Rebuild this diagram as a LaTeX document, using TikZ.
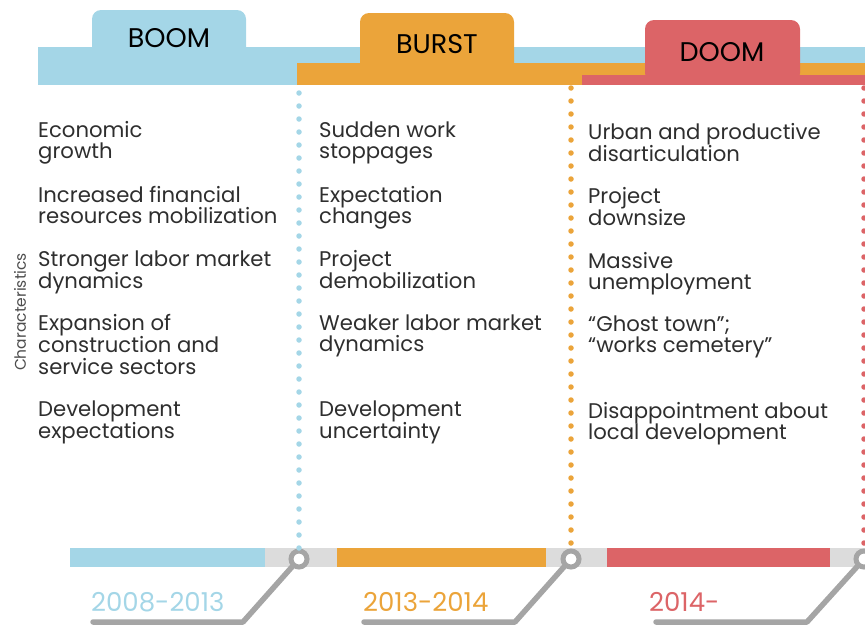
\documentclass[tikz,border=0pt]{standalone}
\usepackage{fontspec}
\setmainfont{Poppins}
\definecolor{cblue}{HTML}{A4D6E7}
\definecolor{corange}{HTML}{EBA43A}
\definecolor{cred}{HTML}{DC6467}
\definecolor{cbar}{HTML}{DCDCDC}
\definecolor{cline}{HTML}{A5A5A5}
\definecolor{ctext}{HTML}{2E2E2E}
\newcommand\twoline[2]{\vtop{\hbox{#1}\hbox{#2}}}
\newcommand\threeline[3]{\vtop{\hbox{#1}\hbox{#2}\hbox{#3}}}
\begin{document}
\begin{tikzpicture}[x=1pt,y=-1pt,
  item/.style={anchor=base west, inner sep=0pt, text=ctext,
    font=\fontsize{21.2}{21.5}\selectfont},
  tablabel/.style={inner sep=0pt, text=black, font=\fontsize{27}{27}\selectfont},
  datelabel/.style={anchor=base west, inner sep=0pt, font=\fontsize{26}{26}\selectfont},
  dotline/.style={draw=#1, line width=5.5pt, line cap=round, dash pattern=on 0pt off 13pt},
  ring/.style={circle, draw=cline, line width=5pt, fill=white, minimum size=16pt, inner sep=0pt},
  leader/.style={draw=cline, line width=5.5pt, line cap=round, line join=round}]
\useasboundingbox (0,0) rectangle (865,624);
% header bands and tabs
\fill[cblue] (38,47) rectangle (865,85);
\fill[cblue, rounded corners=9pt] (92,60) -- (92,10) -- (246,10) -- (246,60) -- cycle;
\fill[corange] (297,63) rectangle (865,85);
\fill[corange, rounded corners=9pt] (360,72) -- (360,13) -- (514,13) -- (514,72) -- cycle;
\fill[cred] (582,75) rectangle (865,85);
\fill[cred, rounded corners=9pt] (645,82) -- (645,20) -- (800,20) -- (800,82) -- cycle;
\node[tablabel] (tboom) at (169,38) {BOOM};
\node[tablabel] (tburst) at (437,44) {BURST};
\node[tablabel] (tdoom) at (722,52) {DOOM};
% bottom bar
\fill[cbar] (265,548) rectangle (865,567);
\fill[cblue] (70,548) rectangle (265,567);
\fill[corange] (337,548) rectangle (546,567);
\fill[cred] (607,548) rectangle (830,567);
% circles
\node[ring] (c1) at (299,559) {};
\node[ring] (c2) at (571,559) {};
\node[ring] (c3) at (864,559) {};
% dotted separators
\coordinate (d1) at (299,93);
\coordinate (d2) at (571,88);
\coordinate (d3) at (864,88);
\draw[dotline=cblue] (d1) -- (c1.north);
\draw[dotline=corange] (d2) -- (c2.north);
\draw[dotline=cred] (d3) -- (c3.north);
% leaders
\coordinate (e1) at (243,622); \coordinate (f1) at (93,622);
\coordinate (e2) at (515,622); \coordinate (f2) at (364,622);
\coordinate (e3) at (807,622); \coordinate (f3) at (656,622);
\draw[leader] (c1) -- (e1) -- (f1);
\draw[leader] (c2) -- (e2) -- (f2);
\draw[leader] (c3) -- (e3) -- (f3);
% dates
\node[datelabel, text=cblue] (y1) at (91,611) {2008-2013};
\node[datelabel, text=corange] (y2) at (363,611) {2013-2014};
\node[datelabel, text=cred] (y3) at (649,611) {2014-};
% side label
\node[rotate=90, inner sep=0pt, text=ctext!85, font=\fontsize{15.5}{15.5}\selectfont] (ch) at (20,312) {Characteristics};
% column 1
\node[item] (a1) at (38,137) {\twoline{Economic}{growth}};
\node[item] (a2) at (38,202) {\twoline{Increased financial}{resources mobilization}};
\node[item] (a3) at (38,266) {\twoline{Stronger labor market}{dynamics}};
\node[item] (a4) at (38,330) {\threeline{Expansion of}{construction and}{service sectors}};
\node[item] (a5) at (38,416) {\twoline{Development}{expectations}};
% column 2
\node[item] (b1) at (319,137) {\twoline{Sudden work}{stoppages}};
\node[item] (b2) at (319,202) {\twoline{Expectation}{changes}};
\node[item] (b3) at (319,266) {\twoline{Project}{demobilization}};
\node[item] (b4) at (319,330) {\twoline{Weaker labor market}{dynamics}};
\node[item] (b5) at (319,416) {\twoline{Development}{uncertainty}};
% column 3
\node[item] (g1) at (588,139) {\twoline{Urban and productive}{disarticulation}};
\node[item] (g2) at (588,203) {\twoline{Project}{downsize}};
\node[item] (g3) at (588,268) {\twoline{Massive}{unemployment}};
\node[item] (g4) at (588,331) {\twoline{“Ghost town”;}{“works cemetery”}};
\node[item] (g5) at (588,418) {\twoline{Disappointment about}{local development}};
\end{tikzpicture}
\end{document}
